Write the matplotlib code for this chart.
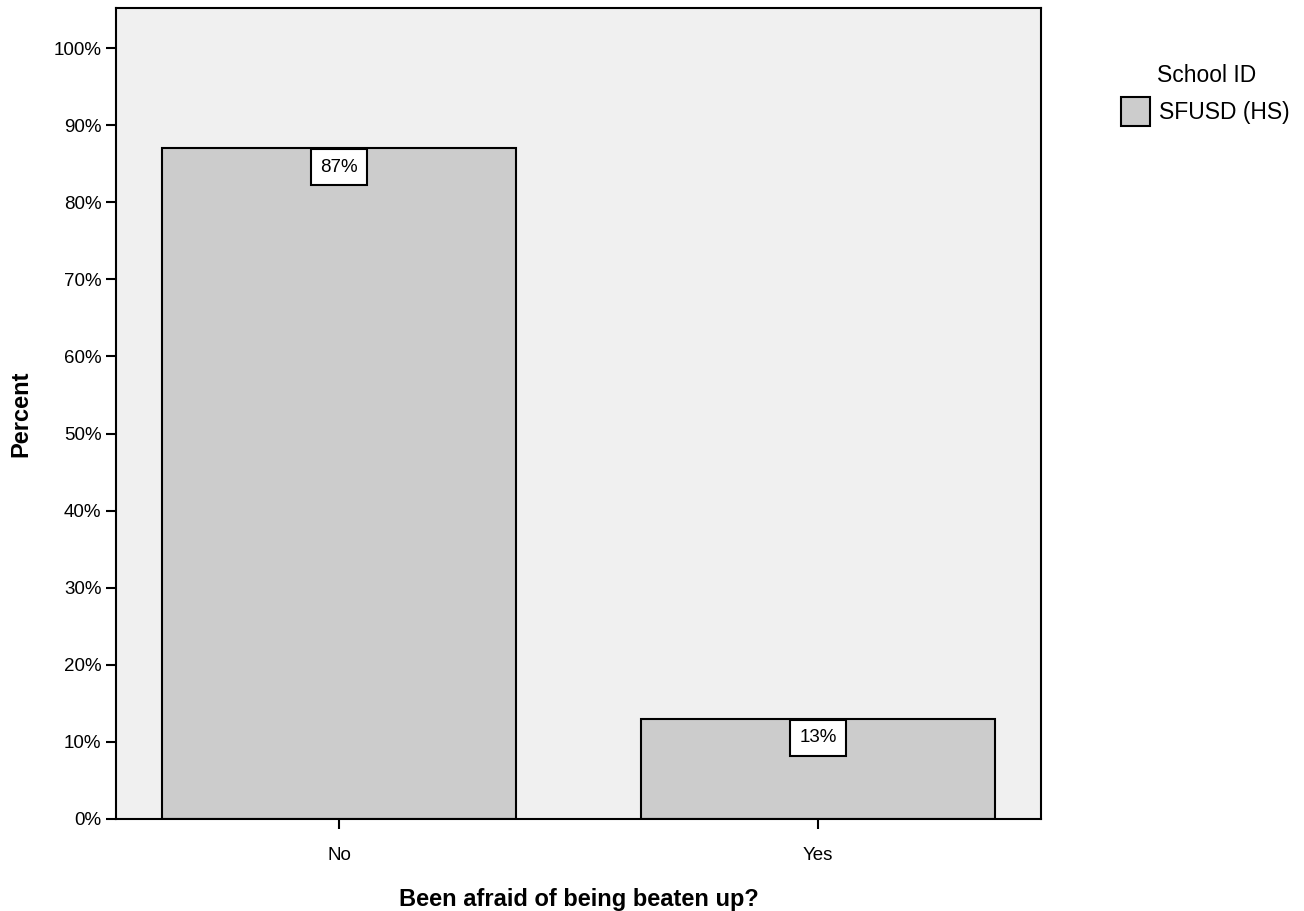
import numpy as np
import matplotlib.pyplot as plt
from matplotlib.patches import Rectangle

plt.rcParams['font.family'] = ['Liberation Sans', 'DejaVu Sans']

# Data
categories = ['No', 'Yes']
percent = [87, 13]
legend_title = 'School ID'
legend_label = 'SFUSD (HS)'

BAR_COLOR = '#cccccc'
BG_COLOR = '#f0f0f0'

fig = plt.figure(figsize=(13.04, 9.11), dpi=100)
ax = fig.add_axes([0.0890, 0.1010, 0.7093, 0.8902])
ax.set_facecolor(BG_COLOR)

x = np.arange(len(categories))
ax.bar(x, percent, width=0.739, color=BAR_COLOR, edgecolor='black',
       linewidth=1.5, zorder=2)

# Value labels in white boxes, hanging from the top of each bar
for xi, v in zip(x, percent):
    ax.annotate(f'{v}%', xy=(xi, v), xytext=(0, -7.5), textcoords='offset points',
                ha='center', va='top', fontsize=13.5, zorder=3,
                bbox=dict(boxstyle='square,pad=0.5', facecolor='white',
                          edgecolor='black', linewidth=1.5))

ax.set_xlim(-0.4656, 1.4656)
ax.set_ylim(0, 105.2)
ax.set_yticks(np.arange(0, 101, 10))
ax.set_yticklabels([f'{t}%' for t in range(0, 101, 10)])
ax.set_xticks(x)
ax.set_xticklabels(categories)
ax.tick_params(axis='both', labelsize=13.5, length=7, width=1.5, color='black')
ax.tick_params(axis='x', pad=13.5)

for s in ax.spines.values():
    s.set_linewidth(1.5)
    s.set_color('black')

ax.set_ylabel('Percent', fontsize=17, fontweight='bold', labelpad=15)
ax.set_xlabel('Been afraid of being beaten up?', fontsize=17, fontweight='bold',
              labelpad=17)

# Legend drawn by hand to match position
fig.text(1207 / 1304, 1 - 76 / 911, legend_title, ha='center', va='center',
         fontsize=16.5)
fig.patches.append(Rectangle((1121 / 1304, 1 - 126 / 911), 29 / 1304, 29 / 911,
                             transform=fig.transFigure, facecolor=BAR_COLOR,
                             edgecolor='black', linewidth=1.5))
fig.text(1159 / 1304, 1 - 113 / 911, legend_label, ha='left', va='center',
         fontsize=16.5)

fig.savefig('out.png', dpi=100)
